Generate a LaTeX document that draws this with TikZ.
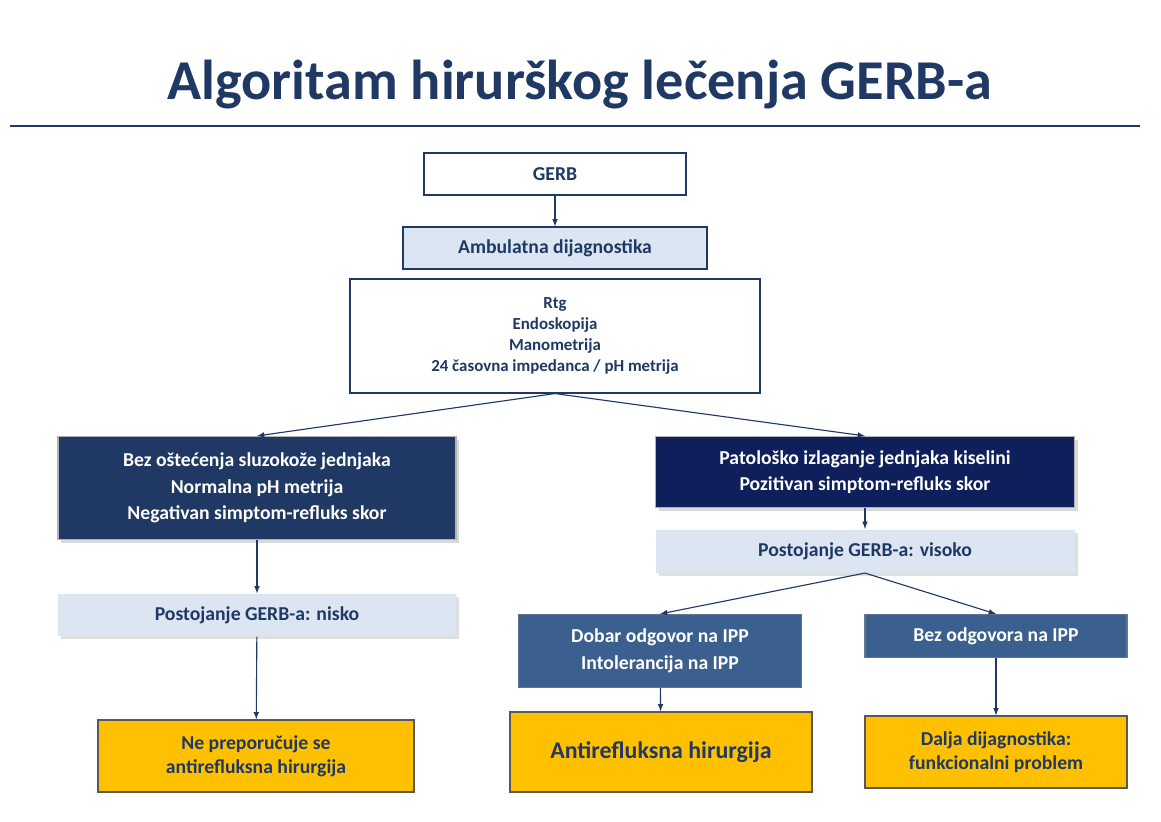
\documentclass[tikz,border=0pt]{standalone}
\usepackage{fontspec}
\setmainfont{Carlito}
\usetikzlibrary{arrows,shapes,positioning,shadows}
\definecolor{navy}{HTML}{1F3864}
\definecolor{deepnavy}{HTML}{0E1F5B}
\definecolor{paleblue}{HTML}{DCE6F2}
\definecolor{midblue}{HTML}{3B5F8E}
\definecolor{gold}{HTML}{FFC000}
\tikzset{
    box/.style={draw=navy, thick, fill=white, text=navy, font=\bfseries\fontsize{14}{17}\selectfont, align=center, inner sep=0pt},
    pale/.style={box, fill=paleblue, draw=none, drop shadow={opacity=0.25}},
    dark/.style={box, fill=navy, draw=gray!60, text=white, drop shadow={opacity=0.3}},
    mid/.style={box, fill=midblue, draw=navy!70, text=white},
    result/.style={box, fill=gold, draw=gray!70!black, thick},
    link/.style={-latex, thick, draw=navy}
}
\begin{document}
\begin{tikzpicture}[x=0.025cm, y=-0.025cm]
        \useasboundingbox (0,0) rectangle (1161,821);
        \node[text=navy, font=\bfseries\fontsize{40}{44}\selectfont] (title) at (580,85) {Algoritam hirurškog lečenja GERB-a};
        \draw[navy, line width=1.5pt] (10,126) -- (1140,126);
        % upper part
        \node[box, minimum width=262*0.025cm, minimum height=42*0.025cm] (gerb) at (555,174) {GERB};
        \node[box, fill=paleblue, minimum width=304*0.025cm, minimum height=42*0.025cm] (amb) at (555,248) {Ambulatna dijagnostika};
        \node[box, minimum width=410*0.025cm, minimum height=114*0.025cm, font=\bfseries\fontsize{12}{15}\selectfont] (dg) at (555,336) {Rtg\\Endoskopija\\Manometrija\\24 časovna impedanca / pH metrija};
        % left branch
        \node[dark, minimum width=398*0.025cm, minimum height=103*0.025cm, font=\bfseries\fontsize{14}{19}\selectfont] (bez) at (257,488) {Bez oštećenja sluzokože jednjaka\\Normalna pH metrija\\Negativan simptom-refluks skor};
        \node[pale, minimum width=398*0.025cm, minimum height=42*0.025cm] (nisko) at (257,615) {Postojanje GERB-a: nisko};
        \node[result, minimum width=316*0.025cm, minimum height=72*0.025cm] (ne) at (256,756) {Ne preporučuje se\\antirefluksna hirurgija};
        % right branch
        \node[dark, fill=deepnavy, minimum width=419*0.025cm, minimum height=71*0.025cm, font=\bfseries\fontsize{14}{19}\selectfont] (pat) at (865,472) {Patološko izlaganje jednjaka kiselini\\Pozitivan simptom-refluks skor};
        \node[pale, minimum width=419*0.025cm, minimum height=43*0.025cm] (visoko) at (865,551) {Postojanje GERB-a: visoko};
        \node[mid, minimum width=283*0.025cm, minimum height=73*0.025cm, font=\bfseries\fontsize{14}{19}\selectfont] (dobar) at (660,651) {Dobar odgovor na IPP\\Intolerancija na IPP};
        \node[mid, minimum width=262*0.025cm, minimum height=43*0.025cm] (bezodg) at (996,636) {Bez odgovora na IPP};
        \node[result, minimum width=302*0.025cm, minimum height=80*0.025cm, font=\bfseries\fontsize{17}{20}\selectfont] (hir) at (661,752) {Antirefluksna hirurgija};
        \node[result, minimum width=262*0.025cm, minimum height=72*0.025cm] (dalja) at (996,752) {Dalja dijagnostika:\\funkcionalni problem};
        % connectors
        \draw[link] (gerb) -- (amb);
        \draw[link] (dg.south) -- (bez.north);
        \draw[link] (dg.south) -- (pat.north);
        \draw[link] (bez) -- (nisko);
        \draw[link] (nisko) -- (ne);
        \draw[link] (pat) -- (visoko);
        \draw[link] (visoko.south) -- (dobar.north);
        \draw[link] (visoko.south) -- (bezodg.north);
        \draw[link] (dobar) -- (hir);
        \draw[link] (bezodg) -- (dalja);
    \end{tikzpicture}
\end{document}
